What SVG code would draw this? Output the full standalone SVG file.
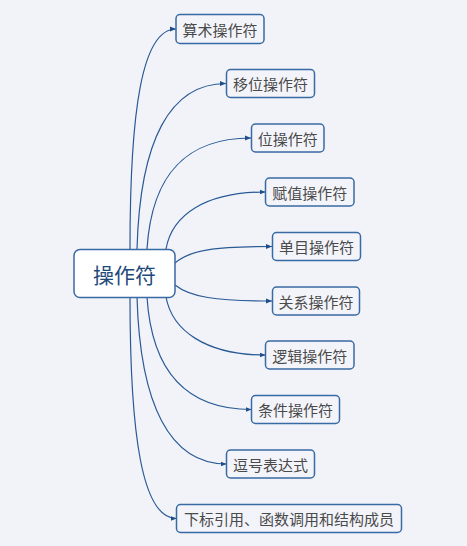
<svg xmlns="http://www.w3.org/2000/svg" width="467" height="546" viewBox="0 0 467 546">
<defs>
<style>
.bg{fill:#f1f3f9}
.conn{fill:none;stroke:#2a5a95;stroke-width:1.2;marker-end:url(#arr)}
.child rect{fill:#f3f4fa;stroke:#3a6aa3;stroke-width:1.5}
.child text{font-family:"Noto Sans CJK SC","Liberation Sans",sans-serif;font-size:15px;fill:#4a4a4a;text-anchor:middle;dominant-baseline:central}
.root rect{fill:#ffffff;stroke:#3a6aa3;stroke-width:1.5}
.root text{font-family:"Noto Sans CJK SC","Liberation Sans",sans-serif;font-size:21px;fill:#1f4a7a;text-anchor:middle;dominant-baseline:central}
</style>
<marker id="arr" markerUnits="userSpaceOnUse" markerWidth="7" markerHeight="6" refX="6" refY="3" orient="auto">
<path d="M0,0.5 L6,3 L0,5.5 z" fill="#1f4e8c"/>
</marker>
</defs>
<rect class="bg" x="0" y="0" width="467" height="546"/>
<g id="connectors">
<path class="conn" d="M130,249 C130,110 142,29 176,29"/>
<path class="conn" d="M137,249 C140,140 170,83.5 226,83.5"/>
<path class="conn" d="M147,249 C152,170 190,138 251,138"/>
<path class="conn" d="M166,249 C172,215 205,192 265.5,192"/>
<path class="conn" d="M175,263 C190,250 215,246.5 272,246.5"/>
<path class="conn" d="M175,285 C190,297 215,301 272,301"/>
<path class="conn" d="M166,297 C172,330 205,355 265.5,355"/>
<path class="conn" d="M147,297 C152,375 190,409.5 251.5,409.5"/>
<path class="conn" d="M137,297 C140,405 170,464 226.5,464"/>
<path class="conn" d="M130,297 C130,435 142,518.5 176.5,518.5"/>
</g>
<g id="root" class="root"><rect x="74" y="249.5" width="101" height="48" rx="6"/><text x="124.5" y="273.5">操作符</text></g>
<g id="n1" class="child"><rect x="176" y="14.5" width="88" height="29" rx="4"/><text x="220" y="29">算术操作符</text></g>
<g id="n2" class="child"><rect x="226.5" y="69.5" width="88" height="28" rx="4"/><text x="270.5" y="83.5">移位操作符</text></g>
<g id="n3" class="child"><rect x="251.5" y="124" width="72.5" height="28" rx="4"/><text x="287.75" y="138">位操作符</text></g>
<g id="n4" class="child"><rect x="265.5" y="178" width="88.5" height="28" rx="4"/><text x="309.75" y="192">赋值操作符</text></g>
<g id="n5" class="child"><rect x="272.5" y="232.5" width="88" height="28" rx="4"/><text x="316.5" y="246.5">单目操作符</text></g>
<g id="n6" class="child"><rect x="272.5" y="287" width="87" height="28" rx="4"/><text x="316" y="301">关系操作符</text></g>
<g id="n7" class="child"><rect x="265.5" y="341" width="88.5" height="28" rx="4"/><text x="309.75" y="355">逻辑操作符</text></g>
<g id="n8" class="child"><rect x="251.5" y="395.5" width="88" height="28" rx="4"/><text x="295.5" y="409.5">条件操作符</text></g>
<g id="n9" class="child"><rect x="226.5" y="450" width="88" height="28" rx="4"/><text x="270.5" y="464">逗号表达式</text></g>
<g id="n10" class="child"><rect x="176.5" y="504.5" width="225" height="28" rx="4"/><text x="289" y="518.5">下标引用、函数调用和结构成员</text></g>
</svg>
